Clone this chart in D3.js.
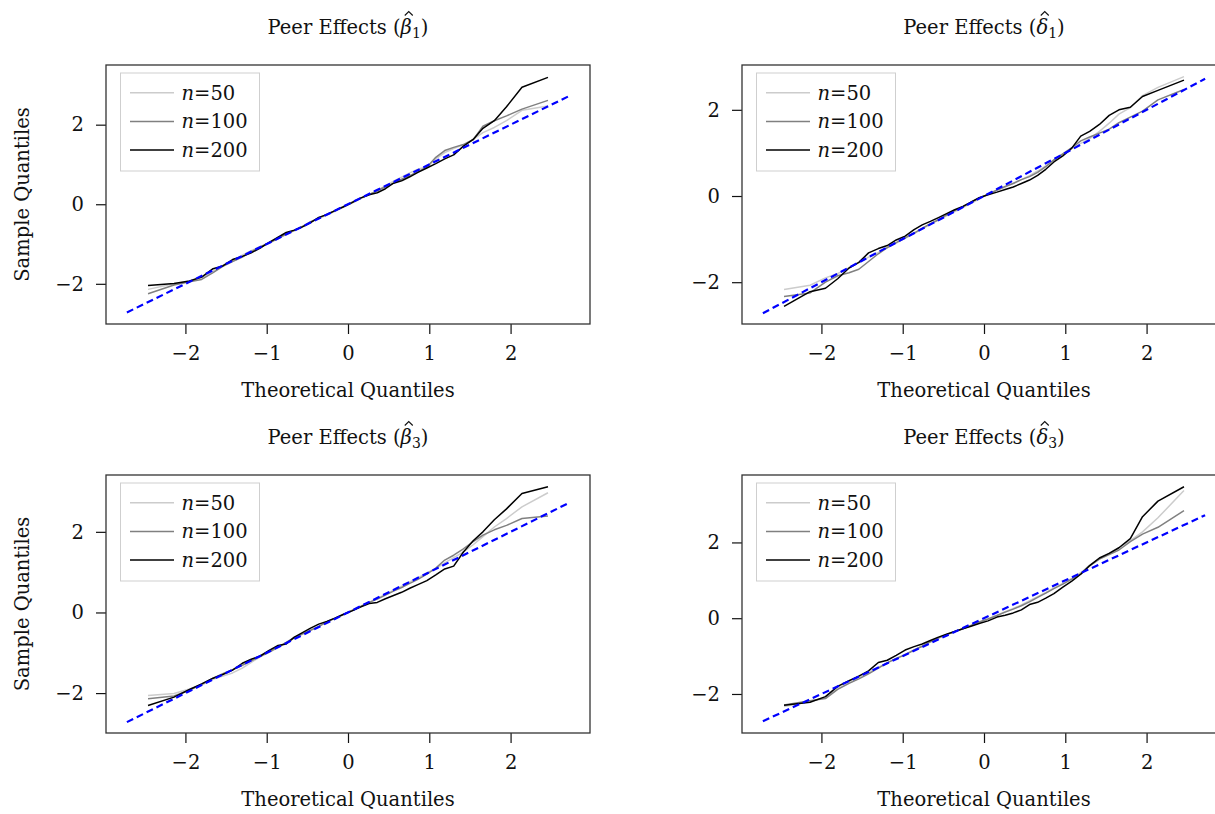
<!DOCTYPE html>
<html lang="en">
<head>
<meta charset="UTF-8">
<title>Peer Effects QQ plots</title>
<style>
  body { margin: 0; background: #fff; }
  svg { display: block; }
  text { font-family: "DejaVu Serif", serif; fill: #111; }
</style>
</head>
<body>
<div id="chart"></div>
<script src="https://d3js.org/d3.v7.min.js"></script>
<script>
// theoretical quantiles shared by every series
const quantX = [-2.46, -2.14, -1.95, -1.80, -1.66, -1.54, -1.42, -1.30, -1.19, -1.08,
  -0.97, -0.86, -0.76, -0.66, -0.56, -0.46, -0.36, -0.26, -0.16, -0.06,
  0.05, 0.16, 0.26, 0.36, 0.46, 0.56, 0.66, 0.76, 0.86, 0.97,
  1.08, 1.19, 1.30, 1.42, 1.54, 1.66, 1.80, 1.95, 2.14, 2.46];

// beta_1
const b1_n50 = [-2.14, -2.00, -1.94, -1.85, -1.68, -1.54, -1.41, -1.28, -1.17, -1.06,
  -0.98, -0.86, -0.76, -0.65, -0.55, -0.45, -0.36, -0.27, -0.18, -0.08,
  0.03, 0.14, 0.25, 0.35, 0.46, 0.58, 0.68, 0.79, 0.88, 0.94,
  1.14, 1.30, 1.40, 1.50, 1.63, 1.80, 1.93, 2.10, 2.36, 2.47];
const b1_n100 = [-2.25, -2.03, -1.95, -1.89, -1.72, -1.56, -1.44, -1.33, -1.19, -1.07,
  -0.97, -0.86, -0.75, -0.66, -0.56, -0.44, -0.35, -0.25, -0.16, -0.06,
  0.05, 0.16, 0.24, 0.34, 0.44, 0.53, 0.63, 0.72, 0.82, 0.93,
  1.18, 1.35, 1.43, 1.50, 1.62, 1.96, 2.10, 2.22, 2.39, 2.61];
const b1_n200 = [-2.04, -1.99, -1.93, -1.83, -1.62, -1.55, -1.39, -1.31, -1.22, -1.10,
  -0.96, -0.83, -0.71, -0.65, -0.57, -0.46, -0.33, -0.26, -0.16, -0.07,
  0.04, 0.16, 0.24, 0.29, 0.39, 0.53, 0.59, 0.69, 0.80, 0.91,
  1.02, 1.14, 1.24, 1.46, 1.63, 1.91, 2.10, 2.45, 2.94, 3.19];

// delta_1
const d1_n50 = [-2.17, -2.07, -1.90, -1.80, -1.66, -1.55, -1.42, -1.31, -1.20, -1.09,
  -0.98, -0.87, -0.76, -0.66, -0.56, -0.46, -0.36, -0.27, -0.17, -0.07,
  0.05, 0.13, 0.21, 0.30, 0.38, 0.47, 0.58, 0.70, 0.84, 0.98,
  1.10, 1.22, 1.33, 1.50, 1.69, 1.90, 2.05, 2.33, 2.52, 2.77];
const d1_n100 = [-2.33, -2.25, -2.00, -1.85, -1.78, -1.70, -1.52, -1.34, -1.20, -1.08,
  -0.97, -0.86, -0.75, -0.64, -0.55, -0.44, -0.34, -0.25, -0.14, -0.05,
  0.04, 0.14, 0.22, 0.29, 0.38, 0.45, 0.55, 0.68, 0.84, 0.98,
  1.12, 1.28, 1.37, 1.46, 1.55, 1.70, 1.83, 1.97, 2.23, 2.47];
const d1_n200 = [-2.56, -2.22, -2.14, -1.92, -1.67, -1.54, -1.32, -1.22, -1.15, -1.02,
  -0.93, -0.78, -0.67, -0.59, -0.50, -0.41, -0.32, -0.24, -0.14, -0.04,
  0.03, 0.09, 0.15, 0.21, 0.29, 0.37, 0.48, 0.62, 0.79, 0.93,
  1.11, 1.39, 1.50, 1.66, 1.87, 2.00, 2.06, 2.31, 2.45, 2.69];

// beta_3
const b3_n50 = [-2.06, -2.01, -1.90, -1.80, -1.66, -1.58, -1.50, -1.38, -1.24, -1.10,
  -0.99, -0.87, -0.75, -0.64, -0.54, -0.44, -0.34, -0.24, -0.15, -0.06,
  0.05, 0.16, 0.25, 0.35, 0.45, 0.55, 0.65, 0.76, 0.86, 0.98,
  1.09, 1.23, 1.36, 1.50, 1.68, 1.88, 2.12, 2.33, 2.62, 2.97];
const b3_n100 = [-2.14, -2.07, -1.93, -1.78, -1.63, -1.52, -1.42, -1.31, -1.20, -1.09,
  -0.98, -0.86, -0.74, -0.62, -0.53, -0.44, -0.35, -0.23, -0.14, -0.05,
  0.05, 0.15, 0.25, 0.33, 0.43, 0.53, 0.62, 0.72, 0.82, 0.95,
  1.10, 1.30, 1.42, 1.58, 1.76, 1.92, 2.05, 2.16, 2.33, 2.39];
const b3_n200 = [-2.31, -2.10, -1.91, -1.77, -1.63, -1.54, -1.43, -1.26, -1.16, -1.08,
  -0.94, -0.82, -0.78, -0.61, -0.50, -0.39, -0.29, -0.22, -0.14, -0.05,
  0.04, 0.14, 0.22, 0.25, 0.34, 0.42, 0.50, 0.60, 0.69, 0.79,
  0.93, 1.08, 1.15, 1.50, 1.78, 2.00, 2.30, 2.57, 2.95, 3.12];

// delta_3
const d3_n50 = [-2.33, -2.20, -2.09, -1.86, -1.70, -1.56, -1.44, -1.30, -1.18, -1.06,
  -0.95, -0.84, -0.74, -0.63, -0.53, -0.44, -0.36, -0.28, -0.20, -0.11,
  -0.02, 0.08, 0.17, 0.26, 0.35, 0.46, 0.57, 0.68, 0.80, 0.92,
  1.05, 1.20, 1.40, 1.58, 1.72, 1.86, 2.05, 2.28, 2.65, 3.37];
const d3_n100 = [-2.29, -2.18, -2.12, -1.88, -1.72, -1.60, -1.47, -1.32, -1.18, -1.06,
  -0.97, -0.84, -0.74, -0.62, -0.52, -0.43, -0.35, -0.28, -0.19, -0.10,
  -0.02, 0.07, 0.16, 0.24, 0.33, 0.43, 0.55, 0.66, 0.78, 0.90,
  1.03, 1.17, 1.38, 1.56, 1.68, 1.80, 2.02, 2.22, 2.40, 2.84];
const d3_n200 = [-2.30, -2.22, -2.07, -1.80, -1.65, -1.53, -1.39, -1.17, -1.11, -0.98,
  -0.84, -0.75, -0.68, -0.59, -0.50, -0.42, -0.35, -0.28, -0.21, -0.14,
  -0.07, 0.03, 0.08, 0.14, 0.22, 0.36, 0.42, 0.53, 0.65, 0.82,
  0.98, 1.16, 1.39, 1.59, 1.71, 1.86, 2.10, 2.68, 3.09, 3.47];

const refLine = [-2.72, 2.72];         // 45 degree reference line ends
const xTicks = [-2, -1, 0, 1, 2];
const yTicks = [-2, 0, 2];
const seriesNames = ["50", "100", "200"];
const seriesColors = ["#cccccc", "#808080", "#000000"];

const W = 1215, H = 814;
const svg = d3.select("#chart").append("svg")
  .attr("width", W).attr("height", H);

const panels = [
  { sym: "β", sub: "1", x: 106, y: 65, h: 259, ydom: [-3.01, 3.50], ylab: true, data: [b1_n50, b1_n100, b1_n200] },
  { sym: "δ", sub: "1", x: 742, y: 65, h: 259, ydom: [-2.97, 3.04], ylab: false, data: [d1_n50, d1_n100, d1_n200] },
  { sym: "β", sub: "3", x: 106, y: 475, h: 258, ydom: [-2.99, 3.41], ylab: true, data: [b3_n50, b3_n100, b3_n200] },
  { sym: "δ", sub: "3", x: 742, y: 475, h: 258, ydom: [-3.03, 3.78], ylab: false, data: [d3_n50, d3_n100, d3_n200] }
];
const pw = 484;
const fs = 19.5;
const fmt = d3.format("d");

panels.forEach(p => {
  const g = svg.append("g").attr("transform", `translate(${p.x},${p.y})`);
  const x = d3.scaleLinear().domain([-2.977, 2.977]).range([0, pw]);
  const y = d3.scaleLinear().domain(p.ydom).range([p.h, 0]);

  // axes
  const xa = g.append("g").attr("transform", `translate(0,${p.h})`)
    .call(d3.axisBottom(x).tickValues(xTicks).tickFormat(fmt).tickSize(10).tickPadding(12));
  const ya = g.append("g")
    .call(d3.axisLeft(y).tickValues(yTicks).tickFormat(fmt).tickSize(10).tickPadding(12));
  [xa, ya].forEach(a => {
    a.select(".domain").remove();
    a.selectAll("line").attr("stroke", "#111").attr("stroke-width", 1.2);
    a.selectAll("text").style("font-family", "DejaVu Serif").style("font-size", fs + "px").attr("fill", "#111");
  });

  // frame
  g.append("rect").attr("width", pw).attr("height", p.h)
    .attr("fill", "none").attr("stroke", "#333").attr("stroke-width", 1.3);

  // series lines
  const line = d3.line().x(d => x(d[0])).y(d => y(d[1]));
  p.data.forEach((vals, i) => {
    g.append("path")
      .datum(quantX.map((q, k) => [q, vals[k]]))
      .attr("d", line)
      .attr("fill", "none")
      .attr("stroke", seriesColors[i])
      .attr("stroke-width", 1.5)
      .attr("stroke-linejoin", "round");
  });

  // reference line
  g.append("path")
    .datum(refLine.map(v => [v, v]))
    .attr("d", line)
    .attr("fill", "none")
    .attr("stroke", "#0000ff")
    .attr("stroke-width", 2.2)
    .attr("stroke-dasharray", "7,4");

  // legend
  const lg = g.append("g").attr("transform", "translate(14.5,8)");
  lg.append("rect").attr("width", 139).attr("height", 98)
    .attr("fill", "#fff").attr("stroke", "#cfcfcf").attr("stroke-width", 1);
  seriesNames.forEach((s, i) => {
    const yy = 19.7 + i * 28.7;
    lg.append("line").attr("x1", 9.5).attr("x2", 53.5).attr("y1", yy).attr("y2", yy)
      .attr("stroke", seriesColors[i]).attr("stroke-width", 1.5);
    const t = lg.append("text").attr("x", 61).attr("y", yy)
      .attr("dominant-baseline", "central").style("font-size", fs + "px");
    t.append("tspan").style("font-style", "italic").text("n");
    t.append("tspan").text("=" + s);
  });

  // title, with a small hat drawn over the greek letter
  const ty = -31;
  const tt = g.append("text").attr("x", pw / 2).attr("y", ty)
    .attr("text-anchor", "middle").style("font-size", fs + "px");
  tt.append("tspan").text("Peer Effects (");
  tt.append("tspan").style("font-style", "italic").text(p.sym);
  tt.append("tspan").attr("dy", 4).style("font-size", "14px").text(p.sub);
  tt.append("tspan").attr("dy", -4).text(")");
  const node = tt.node();
  const gi = "Peer Effects (".length;
  const cx = (node.getStartPositionOfChar(gi).x + node.getEndPositionOfChar(gi).x) / 2 + 2.5;
  g.append("path")
    .attr("d", `M${cx - 4},${ty - 18.5}L${cx},${ty - 22.5}L${cx + 4},${ty - 18.5}`)
    .attr("fill", "none").attr("stroke", "#111").attr("stroke-width", 1.1);

  // axis labels
  g.append("text").attr("x", pw / 2).attr("y", p.h + 73)
    .attr("text-anchor", "middle").style("font-size", fs + "px")
    .text("Theoretical Quantiles");
  if (p.ylab) {
    g.append("text")
      .attr("transform", `translate(${22 - p.x},${p.h / 2}) rotate(-90)`)
      .attr("text-anchor", "middle").attr("dominant-baseline", "central")
      .style("font-size", fs + "px")
      .text("Sample Quantiles");
  }
});
</script>
</body>
</html>
